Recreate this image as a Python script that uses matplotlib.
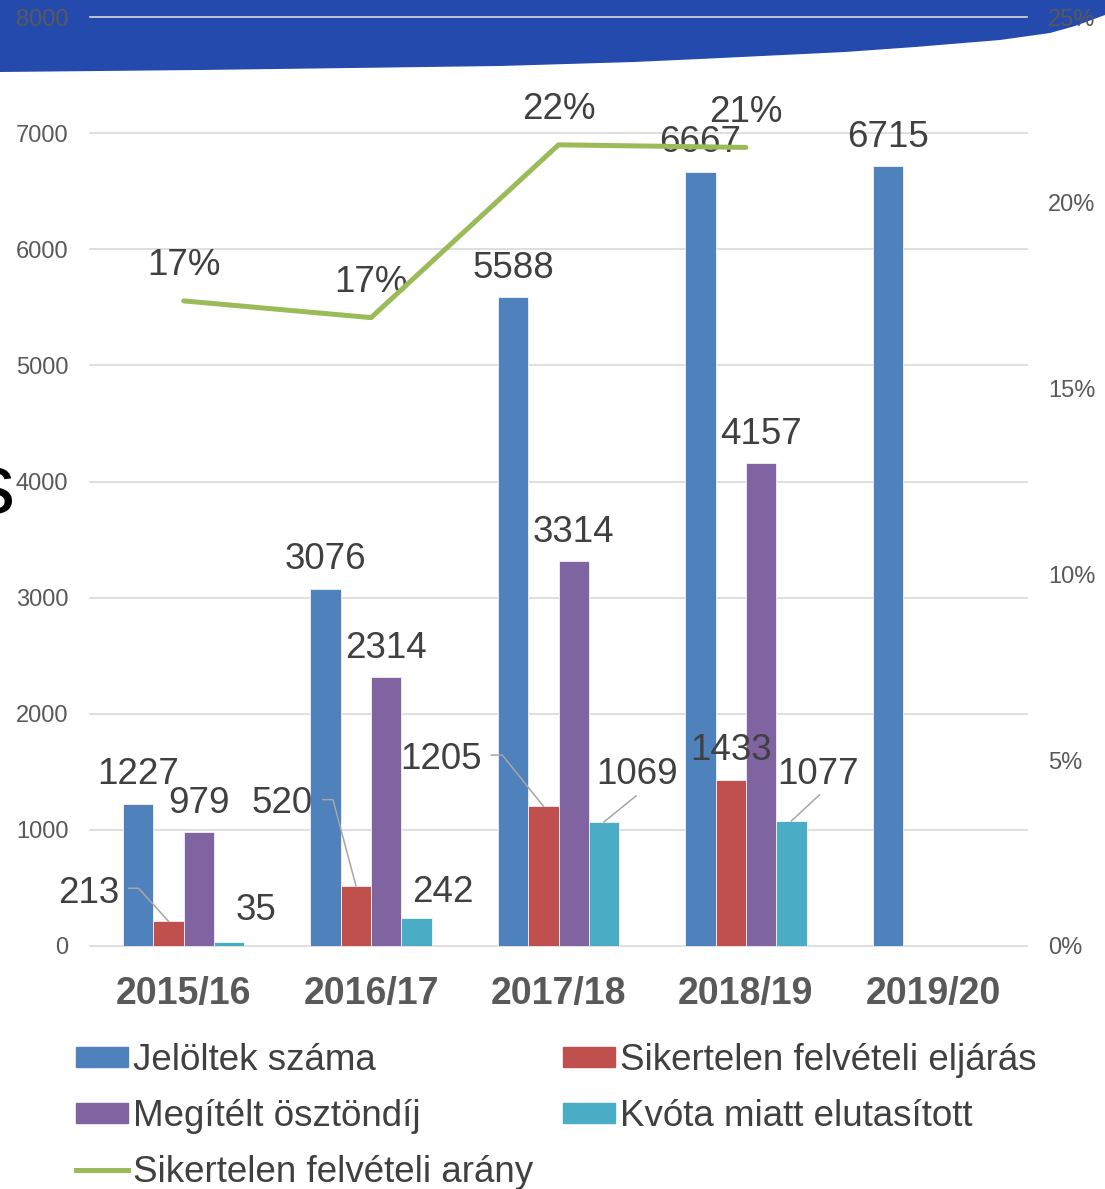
import numpy as np
import matplotlib
matplotlib.use("Agg")
import matplotlib.pyplot as plt
from matplotlib.patches import Polygon, Patch
from matplotlib.lines import Line2D
from matplotlib.ticker import FuncFormatter

plt.rcParams['font.family'] = ['Liberation Sans', 'DejaVu Sans']

# ---------------- data ----------------
categories = ['2015/16', '2016/17', '2017/18', '2018/19', '2019/20']
jeloltek = [1227, 3076, 5588, 6667, 6715]
sikertelen = [213, 520, 1205, 1433, np.nan]
osztondij = [979, 2314, 3314, 4157, np.nan]
kvota = [35, 242, 1069, 1077, np.nan]
arany = [0.1736, 0.1691, 0.2156, 0.2149]

series_names = ['Jelöltek száma', 'Sikertelen felvételi eljárás',
                'Megítélt ösztöndíj', 'Kvóta miatt elutasított']
line_name = 'Sikertelen felvételi arány'

# ---------------- style ----------------
W, H, DPI = 1105, 1189, 100
colors = ['#4F81BD', '#C0504D', '#8064A2', '#4BACC6']
green = '#9BBB59'
lbl_color = '#404040'
tick_color = '#595959'
grid_color = '#D9D9D9'
banner_color = '#234AAC'

fig = plt.figure(figsize=(W / DPI, H / DPI), dpi=DPI)
fig.patch.set_facecolor('white')

# slide banner at the top
curve = [(1105, 15), (1075, 26), (1050, 33), (1000, 40), (915, 47), (845, 52),
         (700, 59), (634, 62), (500, 66), (352, 68), (200, 70), (0, 72)]
pts = [(0, 0), (1105, 0)] + curve
pts = [(px / W, 1 - py / H) for px, py in pts]
fig.patches.append(Polygon(pts, closed=True, transform=fig.transFigure,
                           facecolor=banner_color, edgecolor='none', zorder=-10))

# partial title letter at the left edge (cut off in the original slide too)
fig.text(15 / W, 1 - 513 / H, 's', ha='right', va='baseline', fontsize=62,
         color='black')

ax = fig.add_axes([90 / W, 243 / H, 937 / W, 929 / H])
ax.patch.set_alpha(0)
ax2 = ax.twinx()
ax2.patch.set_alpha(0)

x = np.arange(len(categories))
w = 0.162
all_series = [jeloltek, sikertelen, osztondij, kvota]
for k, (vals, c) in enumerate(zip(all_series, colors)):
    ax.bar(x + (k - 1.5) * w, vals, width=w, color=c, edgecolor='white',
           linewidth=0.5, zorder=3)

ax.set_xlim(-0.5, len(categories) - 0.5)
ax.set_ylim(0, 8000)
ax.set_yticks(np.arange(0, 8001, 1000))
ax.set_xticks(x)
ax.set_xticklabels(categories, fontsize=27, fontweight='bold', color=tick_color)
ax.tick_params(axis='x', length=0, pad=21.5)
ax.tick_params(axis='y', length=0, pad=15.5, labelsize=17, labelcolor=tick_color)
for s in ax.spines.values():
    s.set_visible(False)
ax.yaxis.grid(True, color=grid_color, linewidth=1.2, zorder=0)
ax.set_axisbelow(True)
for gl in ax.yaxis.get_gridlines():
    gl.set_clip_on(False)

ax2.set_ylim(0, 0.25)
ax2.set_yticks(np.arange(0, 0.2501, 0.05))
ax2.yaxis.set_major_formatter(FuncFormatter(lambda v, p: f"{v * 100:.0f}%"))
ax2.tick_params(axis='y', length=0, pad=15, labelsize=17, labelcolor=tick_color)
for s in ax2.spines.values():
    s.set_visible(False)

ax2.plot(x[:len(arany)], arany, color=green, linewidth=3.6, zorder=5,
         solid_capstyle='round')
for i, v in enumerate(arany):
    ax2.annotate(f"{v:.0%}", xy=(i, v), xytext=(0, 35), textcoords='offset pixels',
                 ha='center', va='center', fontsize=26.5, color=lbl_color)

# bar value labels (offsets in pixels) and leader lines
custom = {
    (1, 0): ((-80, 28), [(0, 0), (-30, 33), (-40, 33)]),
    (1, 1): ((-74, 82), [(0, 0), (-23, 86), (-33, 86)]),
    (1, 2): ((-102, 47), [(0, 0), (-41, 51), (-52, 51)]),
    (3, 0): ((27, 31), None),
    (3, 1): ((26, 25), None),
    (3, 2): ((33, 47), [(0, 0), (32, 26)]),
    (3, 3): ((27, 46), [(0, 0), (28, 26)]),
}
fig.canvas.draw()
inv = fig.transFigure.inverted()
for k, vals in enumerate(all_series):
    for i, v in enumerate(vals):
        if np.isnan(v):
            continue
        bx = x[i] + (k - 1.5) * w
        off, leader = custom.get((k, i), ((0, 29), None))
        ax.annotate(f"{int(v)}", xy=(bx, v), xytext=off, textcoords='offset pixels',
                    ha='center', va='center', fontsize=26.5, color=lbl_color, zorder=6)
        if leader:
            px, py = ax.transData.transform((bx, v))
            fpts = inv.transform([(px + dx, py + dy) for dx, dy in leader])
            ax.plot(fpts[:, 0], fpts[:, 1], transform=fig.transFigure,
                    color='#A6A6A6', linewidth=1.1, clip_on=False, zorder=6)

handles = [Patch(color=colors[0]), Patch(color=colors[2]),
           Line2D([], [], color=green, linewidth=3.6),
           Patch(color=colors[1]), Patch(color=colors[3])]
labels = [series_names[0], series_names[2], line_name, series_names[1], series_names[3]]
fig.legend(handles, labels, loc='upper left', bbox_to_anchor=(76 / W, 1 - 1043 / H),
           ncol=2, frameon=False, fontsize=26.5, handlelength=1.41,
           handleheight=0.49, handletextpad=0.14, columnspacing=0.82,
           labelspacing=0.57, borderpad=0, borderaxespad=0, labelcolor=lbl_color)

fig.savefig('out.png', dpi=DPI)
